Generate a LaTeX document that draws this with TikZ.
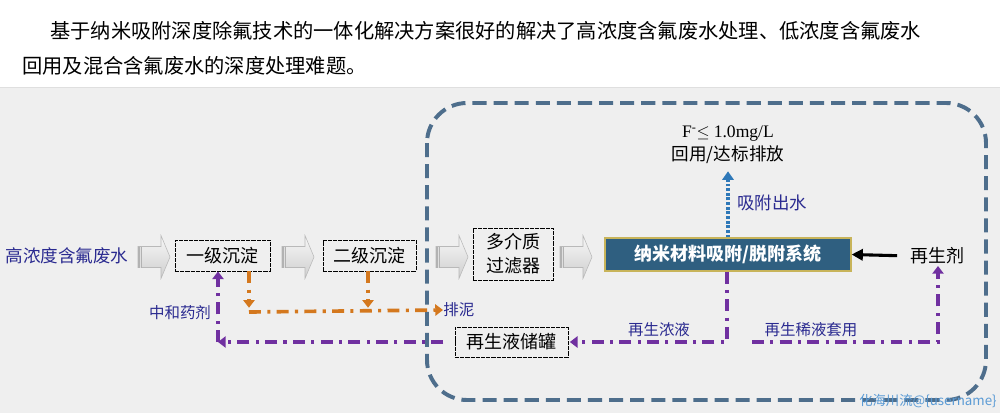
\documentclass[tikz,border=0pt]{standalone}
\usepackage{fontspec}
\usepackage{xcolor}
\usepackage{tikz}
\usetikzlibrary{arrows.meta}

\setmainfont{Noto Sans CJK SC}
\newfontfamily\serifen{Liberation Serif}

\definecolor{panelgray}{HTML}{EFEFEF}
\definecolor{frameblue}{HTML}{4E6E8C}
\definecolor{sludgeorange}{HTML}{D4781E}
\definecolor{regenpurple}{HTML}{7030A0}
\definecolor{labelblue}{HTML}{2A2A90}
\definecolor{nanofill}{HTML}{2F5F80}
\definecolor{nanoedge}{HTML}{C8B45A}
\definecolor{effluentblue}{HTML}{2E78B8}
\definecolor{markblue}{HTML}{5B9BD5}

% gray block arrow between the stages, #1 = tail centre
\newcommand{\flowarrow}[1]{%
  \shade[shift={#1},top color=gray!6,bottom color=gray!38,draw=gray!55,line width=0.4pt]
    (0,-10.5) -- (23,-10.5) -- (23,-21.5) -- (32,0) -- (23,21.5) -- (23,10.5) -- (0,10.5) -- cycle;
  \fill[shift={#1},gray!60] (0,-10.5) rectangle (4,10.5);
  \fill[shift={#1},gray!25] (1.5,-10.5) rectangle (2.5,10.5);
}

\begin{document}
\begin{tikzpicture}[x=0.025cm,y=-0.025cm,
    stagebox/.style={draw=black,line width=0.6pt,dash pattern=on 3pt off 0.7pt,
      inner sep=0pt,font=\fontsize{12.8}{15}\selectfont},
    note/.style={text=labelblue,inner sep=0pt,font=\fontsize{11}{12}\selectfont},
    sludgeline/.style={sludgeorange,line width=2.6pt,
      dash pattern=on 8.5pt off 4.5pt on 2.2pt off 4.5pt,-{Triangle[width=8pt,length=5.5pt]}},
    regenline/.style={regenpurple,line width=2.6pt,
      dash pattern=on 8.5pt off 4.5pt on 2.2pt off 4.5pt},
    regentip/.style={-{Triangle[width=8pt,length=5.5pt]}},
  ]

    % page and panel
    \useasboundingbox (0,0) rectangle (1000,413);
    \fill[white] (0,0) rectangle (1000,413);
    \fill[panelgray] (0,87) rectangle (1000,413);
    \draw[gray!25,line width=0.6pt] (0,87) -- (1000,87);

    % intro text
    \node[anchor=west,inner sep=0pt,font=\fontsize{14.4}{16}\selectfont] (para1) at (50,31)
      {基于纳米吸附深度除氟技术的一体化解决方案很好的解决了高浓度含氟废水处理、低浓度含氟废水};
    \node[anchor=west,inner sep=0pt,font=\fontsize{14.4}{16}\selectfont] (para2) at (22,66)
      {回用及混合含氟废水的深度处理难题。};

    % dashed frame round the nano part
    \draw[frameblue,line width=2.8pt,dash pattern=on 10pt off 5pt,rounded corners=1cm]
      (427,103) rectangle (986,400);

    % stages
    \node[text=labelblue,inner sep=0pt,font=\fontsize{12.5}{14}\selectfont] (feed) at (67,256) {高浓度含氟废水};
    \node[stagebox,minimum width=2.375cm,minimum height=0.775cm] (lvl1) at (222.5,255.5) {一级沉淀};
    \node[stagebox,minimum width=2.325cm,minimum height=0.775cm] (lvl2) at (369.5,255.5) {二级沉淀};
    \node[stagebox,minimum width=2cm,minimum height=1.3cm,align=center,
      font=\fontsize{12.8}{17}\selectfont] (filt) at (513,254) {多介质\\过滤器};
    \node[draw=nanoedge,fill=nanofill,line width=0.8pt,text=white,inner sep=0pt,
      minimum width=6.15cm,minimum height=0.825cm,font=\bfseries\fontsize{12.8}{15}\selectfont]
      (nano) at (728,254.5) {纳米材料吸附/脱附系统};
    \node[inner sep=0pt,font=\fontsize{12.8}{15}\selectfont] (regen) at (937,256) {再生剂};
    \node[stagebox,minimum width=2.825cm,minimum height=0.75cm] (tank) at (511.5,342) {再生液储罐};

    % block arrows
    \flowarrow{(138,257)}
    \flowarrow{(282,257)}
    \flowarrow{(436,257)}
    \flowarrow{(560,257)}

    % outlet
    \node[align=center,inner sep=0pt,font=\fontsize{12.5}{16.5}\selectfont] (outlet) at (728,145)
      {{\serifen F\textsuperscript{-}}$\leq$ {\serifen 1.0mg/L}\\回用/达标排放};
    \draw[effluentblue,line width=2.8pt,dash pattern=on 2pt off 1.3pt,shorten >=5pt,
      -{Triangle[width=8pt,length=6pt]}] (nano.north) -- (outlet.south);
    \node[text=labelblue,inner sep=0pt,font=\fontsize{12.4}{14}\selectfont] (outlab) at (772,203) {吸附出水};

    % regenerant in
    \draw[line width=2.2pt,shorten <=9pt,-{Triangle[length=8pt,width=8pt]}] (regen.west) -- (nano.east);

    % sludge lines
    \coordinate (drain1) at (249,312);
    \coordinate (drain2) at (368,312);
    \node[note,anchor=west] (sludge) at (443,310) {排泥};
    \draw[sludgeline] (lvl1.south -| drain1) -- ([yshift=3pt]drain1);
    \draw[sludgeline] (lvl2.south -| drain2) -- ([yshift=3pt]drain2);
    \draw[sludgeline] (drain1) -- (sludge.west);

    % regenerate liquor lines
    \coordinate (retcorner) at (218,342);
    \coordinate (concbend) at (727,342);
    \coordinate (dilstart) at (752,342);
    \coordinate (dilbend) at (938,342);
    \node[note] (neutral) at (180,313) {中和药剂};
    \node[note] (conclab) at (659,330) {再生浓液};
    \node[note] (dillab) at (811,330) {再生稀液套用};
    \draw[regenline,regentip,shorten <=8pt] (tank.west) -- (retcorner);
    \draw[regenline,regentip] (retcorner) -- (retcorner |- lvl1.south);
    \draw[regenline,regentip,shorten >=1pt] (nano.south -| concbend) -- (concbend) -- (tank.east);
    \draw[regenline,regentip,shorten >=1pt] (dilstart) -- (dilbend) -- (dilbend |- regen.south);

    % watermark
    \node[text=markblue,inner sep=0pt,font=\fontsize{9.5}{11}\selectfont] (mark) at (928,401) {化海川流@\{username\}};
\end{tikzpicture}
\end{document}
